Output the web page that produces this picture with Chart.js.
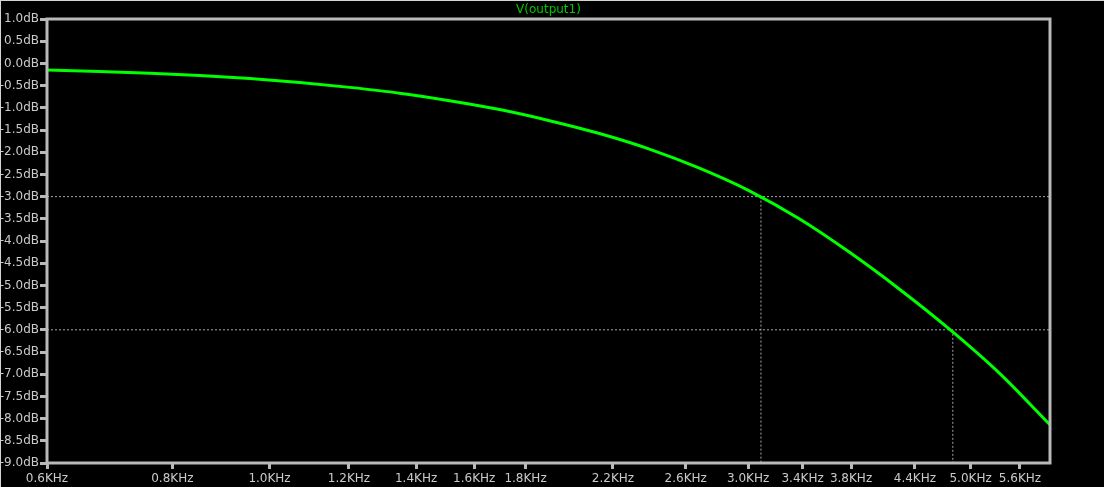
<!DOCTYPE html>
<html>
<head>
<meta charset="utf-8">
<script src="https://cdn.jsdelivr.net/npm/chart.js@4"></script>
<style>
  html, body { margin: 0; padding: 0; background: #000; }
</style>
</head>
<body>
<canvas id="plot" width="1104" height="487"></canvas>
<script>
// V(output1) magnitude, Hz -> dB
let freqs = [600, 677, 760, 852, 956, 1072, 1202, 1348, 1512, 1696, 1902, 2133, 2392, 2683, 3009, 3374, 3784, 4244, 4760, 5338, 6000];
let gainDb = [-0.15, -0.18, -0.22, -0.27, -0.34, -0.43, -0.54, -0.67, -0.84, -1.04, -1.29, -1.58, -1.93, -2.36, -2.87, -3.50, -4.25, -5.08, -5.98, -6.97, -8.14];

// cursor crossings (-3 dB and -6 dB)
let cursorFreqs = [3090, 4800];
let cursorDb = [-3, -6];

let xTicks = [600, 800, 1000, 1200, 1400, 1600, 1800, 2200, 2600, 3000, 3400, 3800, 4400, 5000, 5600];
let xMin = 600, xMax = 6000;
let yMin = -9, yMax = 1, yStep = 0.5;

let axisGrey = "#b9b9b9";
let labelGrey = "#cacaca";
let cursorGrey = "#a6a6a6";

let datasets = [{
  label: "V(output1)",
  data: freqs.map((f, i) => ({ x: f, y: gainDb[i] })),
  borderColor: "#00ff00",
  borderWidth: 3,
  pointRadius: 0,
  cubicInterpolationMode: "monotone",
  order: 0
}];

cursorFreqs.forEach((f, i) => {
  // horizontal dotted line across the plot
  datasets.push({
    data: [{ x: xMin, y: cursorDb[i] }, { x: xMax, y: cursorDb[i] }],
    borderColor: cursorGrey,
    borderWidth: 1,
    borderDash: [2, 2],
    pointRadius: 0,
    order: 1
  });
  // vertical dotted line down to the axis
  datasets.push({
    data: [{ x: f, y: cursorDb[i] }, { x: f, y: yMin }],
    borderColor: cursorGrey,
    borderWidth: 1,
    borderDash: [2, 2],
    pointRadius: 0,
    order: 1
  });
});

let scopeLook = {
  id: "scopeLook",
  beforeDraw(chart) {
    let ctx = chart.ctx;
    ctx.save();
    ctx.fillStyle = "#000";
    ctx.fillRect(0, 0, chart.width, chart.height);
    ctx.restore();
  },
  afterDraw(chart) {
    let ctx = chart.ctx;
    let a = chart.chartArea;
    ctx.save();
    // plot frame
    ctx.strokeStyle = axisGrey;
    ctx.lineWidth = 3;
    ctx.strokeRect(a.left, a.top, a.right - a.left, a.bottom - a.top);
    // window edge
    ctx.fillStyle = "#d4d4d4";
    ctx.fillRect(0, 0, chart.width, 1);
    ctx.fillRect(0, 0, 1, chart.height);
    // trace title
    ctx.fillStyle = "#00c800";
    ctx.font = "12px 'DejaVu Sans'";
    ctx.textAlign = "center";
    ctx.textBaseline = "middle";
    ctx.fillText("V(output1)", (a.left + a.right) / 2, a.top - 9);
    ctx.restore();
  }
};

new Chart(document.getElementById("plot").getContext("2d"), {
  type: "line",
  data: { datasets: datasets },
  options: {
    responsive: false,
    animation: false,
    layout: { padding: { top: 19, right: 54, left: 0, bottom: 0 } },
    plugins: {
      legend: { display: false },
      tooltip: { enabled: false }
    },
    scales: {
      x: {
        type: "logarithmic",
        min: xMin,
        max: xMax,
        afterBuildTicks(scale) {
          scale.ticks = xTicks.map(v => ({ value: v }));
        },
        afterFit(scale) { scale.height = 24; },
        border: { display: false },
        grid: {
          drawOnChartArea: false,
          drawTicks: true,
          tickLength: 6,
          tickWidth: 3,
          tickColor: axisGrey
        },
        ticks: {
          autoSkip: false,
          maxRotation: 0,
          padding: 3,
          color: labelGrey,
          font: { family: "DejaVu Sans", size: 12 },
          callback: v => (v / 1000).toFixed(1) + "KHz"
        }
      },
      y: {
        min: yMin,
        max: yMax,
        afterFit(scale) { scale.width = 47; },
        border: { display: false },
        grid: {
          drawOnChartArea: false,
          drawTicks: true,
          tickLength: 7,
          tickWidth: 3,
          tickColor: axisGrey
        },
        ticks: {
          stepSize: yStep,
          padding: 1,
          color: labelGrey,
          font: { family: "DejaVu Sans", size: 12 },
          callback: v => (Math.abs(v) < 1e-9 ? 0 : v).toFixed(1) + "dB"
        }
      }
    }
  },
  plugins: [scopeLook]
});
</script>
</body>
</html>
